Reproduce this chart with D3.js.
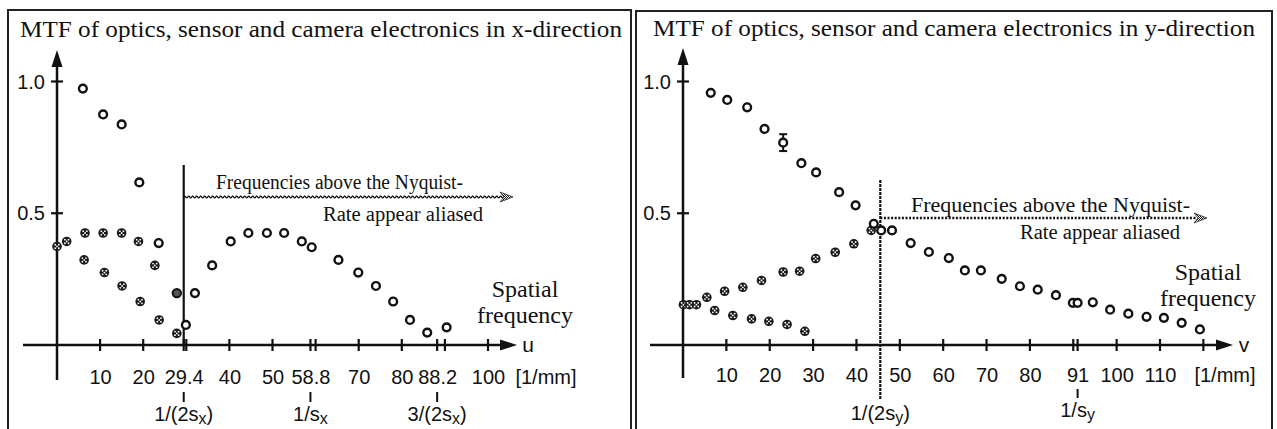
<!DOCTYPE html>
<html>
<head>
<meta charset="utf-8">
<script src="https://cdn.jsdelivr.net/npm/d3@7"></script>
<style>
  body { margin: 0; background: #fff; }
  svg { display: block; }
  .serif { font-family: "Liberation Serif", "Times New Roman", serif; fill: #111; }
  .sans { font-family: "Liberation Sans", Arial, sans-serif; fill: #111; }
</style>
</head>
<body>
<div id="chart"></div>
<script>
// ---- x-direction (left panel) ----
const xOpenU   = [6, 10.7, 15, 19.1, 23.6, 29.9, 32, 36, 40.3, 44.4, 48.7, 52.7, 56.8, 59.1, 65.3, 69.9, 74, 78, 81.9, 85.9, 90.4];
const xOpenMtf = [0.973, 0.875, 0.837, 0.617, 0.387, 0.076, 0.197, 0.302, 0.393, 0.425, 0.425, 0.425, 0.393, 0.371, 0.323, 0.275, 0.224, 0.165, 0.095, 0.047, 0.067];
const xAliasHiU   = [0, 2.25, 6.5, 10.7, 15, 18.9, 22.7];
const xAliasHiMtf = [0.374, 0.393, 0.425, 0.425, 0.425, 0.393, 0.302];
const xAliasLoU   = [6.3, 11, 15.1, 19.3, 23.7, 27.8];
const xAliasLoMtf = [0.323, 0.275, 0.224, 0.165, 0.095, 0.044];
const xOverlapU = [27.8];
const xOverlapMtf = [0.197];
const xTickVals = [10, 20, 29.4, 30, 40, 50, 58.8, 60, 70, 80, 88.2, 90, 100];
const xTickLabels = [10, 20, 29.4, 40, 50, 58.8, 70, 80, 88.2, 100];
const xMarkVals = [29.4, 58.8, 88.2];
const xMarkPre  = ["1/(2s", "1/s", "3/(2s"];
const xMarkPost = [")", "", ")"];

// ---- y-direction (right panel) ----
const yOpenV   = [6.4, 10.2, 14.8, 18.8, 23.1, 27.3, 30.7, 36, 39.8, 44, 45.7, 48.2, 52.5, 56.7, 61.3, 65, 68.7, 73.5, 77.7, 81.8, 86, 89.9, 91, 94.5, 98.5, 102.7, 106.9, 110.9, 115, 119.2];
const yOpenMtf = [0.957, 0.93, 0.902, 0.82, 0.768, 0.69, 0.655, 0.58, 0.53, 0.46, 0.435, 0.435, 0.387, 0.353, 0.33, 0.283, 0.283, 0.251, 0.223, 0.21, 0.189, 0.16, 0.16, 0.162, 0.134, 0.119, 0.107, 0.103, 0.084, 0.059];
const yErrIndex = [4];
const yErr = [0.032];
const yAliasHiV   = [0.1, 1.5, 3.1, 5.5, 9.6, 13.8, 18.1, 23.1, 26.9, 30.6, 35.1, 39.4, 43.4];
const yAliasHiMtf = [0.153, 0.153, 0.153, 0.181, 0.204, 0.219, 0.245, 0.277, 0.28, 0.328, 0.352, 0.384, 0.435];
const yAliasLoV   = [7.3, 11.5, 15.8, 19.8, 24, 28.1];
const yAliasLoMtf = [0.131, 0.112, 0.099, 0.09, 0.078, 0.052];
const yTickVals = [10, 20, 30, 40, 50, 60, 70, 80, 90, 91, 100, 110, 120];
const yTickLabels = [10, 20, 30, 40, 50, 60, 70, 80, 91, 100, 110];
const yMarkVals = [91];
const yMarkPre  = ["1/s"];
const yMarkPost = [""];

const mtfTicks = [0.5, 1.0];

const w = 1277;
const h = 429;

const svg = d3.select("#chart")
  .append("svg")
  .attr("width", w)
  .attr("height", h);

// speckled fill for the little arrow heads
const defs = svg.append("defs");
const pat = defs.append("pattern")
  .attr("id", "speck")
  .attr("width", 2).attr("height", 2)
  .attr("patternUnits", "userSpaceOnUse");
pat.append("rect").attr("width", 2).attr("height", 2).attr("fill", "#fff");
pat.append("rect").attr("width", 1).attr("height", 1).attr("fill", "#111");
pat.append("rect").attr("x", 1).attr("y", 1).attr("width", 1).attr("height", 1).attr("fill", "#111");

const zip = (a, b) => a.map((d, i) => [d, b[i]]);

function drawPanel(p) {
  const g = svg.append("g");
  const xScale = d3.scaleLinear().domain(p.xDomain).range(p.xRange);
  const yScale = d3.scaleLinear().domain([0, 1]).range([345, 81.5]);
  const x0 = xScale(0);
  const y0 = yScale(0);

  // frame
  g.append("rect")
    .attr("x", p.box[0]).attr("y", p.box[1])
    .attr("width", p.box[2] - p.box[0]).attr("height", 460)
    .attr("fill", "none").attr("stroke", "#222").attr("stroke-width", 2);

  g.append("text")
    .attr("class", "serif")
    .attr("x", p.titleX).attr("y", p.titleY)
    .attr("font-size", 22.5)
    .attr("textLength", 602).attr("lengthAdjust", "spacingAndGlyphs")
    .text(p.title);

  // axes with arrows
  g.append("line")
    .attr("x1", p.axisLeft).attr("x2", p.axisRight - 12)
    .attr("y1", y0).attr("y2", y0)
    .attr("stroke", "#111").attr("stroke-width", 2.5);
  g.append("path")
    .attr("d", `M${p.axisRight},${y0} L${p.axisRight - 17},${y0 - 5.5} L${p.axisRight - 17},${y0 + 5.5} Z`)
    .attr("fill", "#111");
  g.append("line")
    .attr("x1", x0).attr("x2", x0)
    .attr("y1", p.axisBottom).attr("y2", p.axisTop + 12)
    .attr("stroke", "#111").attr("stroke-width", 2.5);
  g.append("path")
    .attr("d", `M${x0},${p.axisTop} L${x0 - 5.5},${p.axisTop + 17} L${x0 + 5.5},${p.axisTop + 17} Z`)
    .attr("fill", "#111");

  // x ticks crossing the axis
  g.selectAll(".xtick")
    .data(p.tickVals)
    .enter()
    .append("line")
    .attr("x1", (d) => xScale(d)).attr("x2", (d) => xScale(d))
    .attr("y1", y0 - 6).attr("y2", y0 + 6)
    .attr("stroke", "#111").attr("stroke-width", 2.2);

  // x tick labels through d3 axis
  const xAxis = d3.axisBottom(xScale)
    .tickValues(p.tickLabels)
    .tickSize(0)
    .tickPadding(0)
    .tickFormat((d) => d);
  const ax = g.append("g")
    .attr("transform", `translate(0, ${p.labelY})`)
    .call(xAxis);
  ax.select(".domain").remove();
  ax.selectAll("text")
    .attr("class", "sans")
    .attr("font-size", 20)
    .attr("dy", 0)
    .attr("y", 0);

  g.append("text")
    .attr("class", "sans")
    .attr("x", p.unitX).attr("y", p.labelY)
    .attr("text-anchor", "middle")
    .attr("font-size", 20)
    .text("[1/mm]");

  g.append("text")
    .attr("class", "sans")
    .attr("x", p.axisRight + 11).attr("y", y0 + 7)
    .attr("text-anchor", "middle")
    .attr("font-size", 21)
    .text(p.varName);

  // y ticks and labels
  g.selectAll(".ytick")
    .data(mtfTicks)
    .enter()
    .append("line")
    .attr("x1", x0 - 6).attr("x2", x0 + 6)
    .attr("y1", (d) => yScale(d)).attr("y2", (d) => yScale(d))
    .attr("stroke", "#111").attr("stroke-width", 2.2);
  g.selectAll(".ylab")
    .data(mtfTicks)
    .enter()
    .append("text")
    .attr("class", "sans")
    .attr("x", x0 - 12).attr("y", (d) => yScale(d) + 7)
    .attr("text-anchor", "end")
    .attr("font-size", 20)
    .text((d) => d.toFixed(1));

  // sampling marks below the labels
  p.marks.forEach((m) => {
    const mx = xScale(m.v);
    g.append("line")
      .attr("x1", mx).attr("x2", mx)
      .attr("y1", m.tickY[0]).attr("y2", m.tickY[1])
      .attr("stroke", "#111").attr("stroke-width", 2);
    const t = g.append("text")
      .attr("class", "sans")
      .attr("x", mx).attr("y", m.y)
      .attr("text-anchor", "middle")
      .attr("font-size", 20);
    t.append("tspan").text(m.pre);
    t.append("tspan").attr("font-size", 16).attr("dy", 3).text(p.sub);
    if (m.post) t.append("tspan").attr("dy", -3).text(m.post);
  });

  // Nyquist line and aliasing arrow
  const nx = xScale(p.nyquist);
  g.append("line")
    .attr("x1", nx).attr("x2", nx)
    .attr("y1", p.nyqTop).attr("y2", p.nyqBottom)
    .attr("stroke", "#111").attr("stroke-width", 2.2)
    .attr("stroke-dasharray", p.nyqDash);

  if (p.wavy) {
    let d = `M${nx},${p.arrowY}`;
    for (let xx = nx; xx < p.arrowEnd - 10; xx += 4) {
      d += ` Q${xx + 1},${p.arrowY - 1.8} ${xx + 2},${p.arrowY} T${xx + 4},${p.arrowY}`;
    }
    g.append("path").attr("d", d)
      .attr("fill", "none").attr("stroke", "#111").attr("stroke-width", 1.4);
  } else {
    g.append("line")
      .attr("x1", nx).attr("x2", p.arrowEnd - 10)
      .attr("y1", p.arrowY).attr("y2", p.arrowY)
      .attr("stroke", "#111").attr("stroke-width", 2.4)
      .attr("stroke-dasharray", "2,1.6");
  }
  const ae = p.arrowEnd;
  const ay = p.arrowY;
  g.append("path")
    .attr("d", `M${ae},${ay} L${ae - 13},${ay - 5} L${ae - 9},${ay} L${ae - 13},${ay + 5} Z`)
    .attr("fill", "url(#speck)").attr("stroke", "#333").attr("stroke-width", 0.8);

  g.append("text")
    .attr("class", "serif")
    .attr("x", p.freqX).attr("y", p.freqY)
    .attr("font-size", 20)
    .attr("textLength", p.freqLen).attr("lengthAdjust", "spacingAndGlyphs")
    .text("Frequencies above the Nyquist-");
  g.append("text")
    .attr("class", "serif")
    .attr("x", p.rateX).attr("y", p.rateY)
    .attr("font-size", 20)
    .attr("textLength", 160).attr("lengthAdjust", "spacingAndGlyphs")
    .text("Rate appear aliased");

  g.append("text")
    .attr("class", "serif")
    .attr("x", p.spatialX).attr("y", p.spatialY)
    .attr("text-anchor", "middle")
    .attr("font-size", 24)
    .text("Spatial");
  g.append("text")
    .attr("class", "serif")
    .attr("x", p.spatialX).attr("y", p.spatialY + 26)
    .attr("text-anchor", "middle")
    .attr("font-size", 24)
    .text("frequency");

  // error bars
  p.errors.forEach((e) => {
    const ex = xScale(e[0]);
    const ya = yScale(e[1] + e[2]);
    const yb = yScale(e[1] - e[2]);
    g.append("line").attr("x1", ex).attr("x2", ex).attr("y1", ya).attr("y2", yb)
      .attr("stroke", "#111").attr("stroke-width", 2);
    [ya, yb].forEach((yy) => {
      g.append("line").attr("x1", ex - 4).attr("x2", ex + 4).attr("y1", yy).attr("y2", yy)
        .attr("stroke", "#111").attr("stroke-width", 2);
    });
  });

  // aliased points (speckled blobs)
  const alias = g.selectAll(".alias")
    .data(p.alias)
    .enter()
    .append("g")
    .attr("transform", (d) => `translate(${xScale(d[0])},${yScale(d[1])})`);
  alias.append("circle").attr("r", 4.8).attr("fill", "#1a1a1a");
  [[-1.8, -1.8], [1.8, -1.8], [-1.8, 1.8], [1.8, 1.8], [0, 0]].forEach((o) => {
    alias.append("circle").attr("cx", o[0]).attr("cy", o[1]).attr("r", 0.9).attr("fill", "#fff");
  });

  // overlapping points (ring around speckle)
  g.selectAll(".overlap")
    .data(p.overlap)
    .enter()
    .append("circle")
    .attr("cx", (d) => xScale(d[0])).attr("cy", (d) => yScale(d[1]))
    .attr("r", 4.2)
    .attr("fill", "#555").attr("stroke", "#111").attr("stroke-width", 2);

  // measured points (open circles)
  g.selectAll(".open")
    .data(p.open)
    .enter()
    .append("circle")
    .attr("cx", (d) => xScale(d[0])).attr("cy", (d) => yScale(d[1]))
    .attr("r", 3.9)
    .attr("fill", "#fff").attr("stroke", "#111").attr("stroke-width", 2.4);
}

drawPanel({
  box: [8, 10, 631],
  title: "MTF of optics, sensor and camera electronics in x-direction",
  titleX: 20, titleY: 37,
  xDomain: [0, 100], xRange: [57, 488],
  axisLeft: 23, axisRight: 517, axisTop: 50, axisBottom: 380,
  tickVals: xTickVals, tickLabels: xTickLabels,
  labelY: 384, unitX: 546, varName: "u", sub: "x",
  marks: xMarkVals.map((v, i) => ({ v: v, pre: xMarkPre[i], post: xMarkPost[i], y: 421, tickY: [392, 402] })),
  nyquist: 29.4, nyqTop: 165, nyqBottom: 345, nyqDash: null,
  wavy: true, arrowY: 197, arrowEnd: 513,
  freqX: 216, freqY: 189, freqLen: 247,
  rateX: 323, rateY: 221,
  spatialX: 525, spatialY: 297,
  errors: [],
  alias: zip(xAliasHiU, xAliasHiMtf).concat(zip(xAliasLoU, xAliasLoMtf)),
  overlap: zip(xOverlapU, xOverlapMtf),
  open: zip(xOpenU, xOpenMtf)
});

drawPanel({
  box: [636, 11, 1272],
  title: "MTF of optics, sensor and camera electronics in y-direction",
  titleX: 653, titleY: 36,
  xDomain: [0, 110], xRange: [683, 1160],
  axisLeft: 650, axisRight: 1233, axisTop: 48, axisBottom: 378,
  tickVals: yTickVals, tickLabels: yTickLabels,
  labelY: 382, unitX: 1225, varName: "v", sub: "y",
  marks: [{ v: 45.5, pre: "1/(2s", post: ")", y: 420, tickY: [345, 345] }]
    .concat(yMarkVals.map((v, i) => ({ v: v, pre: yMarkPre[i], post: yMarkPost[i], y: 417, tickY: [389, 398] }))),
  nyquist: 45.5, nyqTop: 180, nyqBottom: 400, nyqDash: "3,1",
  wavy: false, arrowY: 218, arrowEnd: 1207,
  freqX: 911, freqY: 212, freqLen: 279,
  rateX: 1020, rateY: 239,
  spatialX: 1208, spatialY: 280,
  errors: yErrIndex.map((k, i) => [yOpenV[k], yOpenMtf[k], yErr[i]]),
  alias: zip(yAliasHiV, yAliasHiMtf).concat(zip(yAliasLoV, yAliasLoMtf)),
  overlap: [],
  open: zip(yOpenV, yOpenMtf)
});
</script>
</body>
</html>
